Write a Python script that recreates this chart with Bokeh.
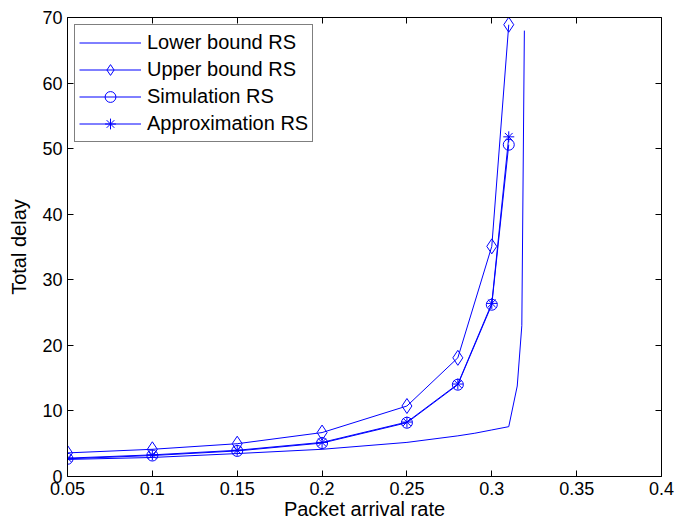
from bokeh.plotting import figure
from bokeh.models import LinearAxis, FixedTicker, Legend, LegendItem, Range1d, CustomLabelingPolicy
from bokeh.embed import file_html
from bokeh.resources import INLINE

# ---- data ----
x_rate = [0.05, 0.1, 0.15, 0.2, 0.25, 0.28, 0.3, 0.31]
upper_rs = [3.6, 4.15, 5.0, 6.7, 10.75, 18.1, 35.1, 68.9]
sim_rs = [2.7, 3.2, 3.9, 5.1, 8.2, 14.0, 26.2, 50.6]
approx_rs = [2.8, 3.3, 4.0, 5.2, 8.3, 14.1, 26.4, 51.8]

x_lower = [0.05, 0.1, 0.15, 0.2, 0.25, 0.28, 0.29, 0.3, 0.31, 0.315, 0.3177, 0.3192]
lower_rs = [2.6, 2.9, 3.5, 4.15, 5.2, 6.2, 6.6, 7.1, 7.6, 13.8, 23.0, 68.0]

x_ticks = [0.05, 0.1, 0.15, 0.2, 0.25, 0.3, 0.35, 0.4]
x_tick_labels = ["0.05", "0.1", "0.15", "0.2", "0.25", "0.3", "0.35", "0.4"]
y_ticks = [0, 10, 20, 30, 40, 50, 60, 70]

series_names = ["Lower bound RS", "Upper bound RS", "Simulation RS", "Approximation RS"]

BLUE = "#0000ff"
FONT = "Liberation Sans"

p = figure(width=676, height=523, output_backend="svg", toolbar_location=None,
           x_range=Range1d(0.05, 0.4), y_range=Range1d(0, 70),
           min_border_left=67, min_border_right=15, min_border_top=17, min_border_bottom=47)
p.xgrid.visible = False
p.ygrid.visible = False
p.outline_line_color = None
p.background_fill_color = "white"
p.border_fill_color = "white"

r_low = p.line(x_lower, lower_rs, color=BLUE, line_width=1)
r_up_l = p.line(x_rate, upper_rs, color=BLUE, line_width=1)
r_up_m = p.scatter(x_rate, upper_rs, marker="diamond", size=15, line_color=BLUE, fill_color=None, line_width=1)
r_sim_l = p.line(x_rate, sim_rs, color=BLUE, line_width=1)
r_sim_m = p.scatter(x_rate, sim_rs, marker="circle", size=11, line_color=BLUE, fill_color=None, line_width=1)
r_app_l = p.line(x_rate, approx_rs, color=BLUE, line_width=1)
r_app_m = p.scatter(x_rate, approx_rs, marker="asterisk", size=11, line_color=BLUE, fill_color=None, line_width=1)

def style_axis(ax, labels=True):
    ax.axis_line_color = "black"
    ax.axis_line_width = 1
    ax.major_tick_in = 6
    ax.major_tick_out = 0
    ax.major_tick_line_color = "black"
    ax.minor_tick_line_color = None
    if labels:
        ax.major_label_text_font = FONT
        ax.major_label_text_font_size = "18px"
        ax.major_label_text_color = "black"
        ax.major_label_standoff = 5
        ax.axis_label_text_font = FONT
        ax.axis_label_text_font_size = "20px"
        ax.axis_label_text_font_style = "normal"
        ax.axis_label_text_color = "black"
    else:
        ax.major_label_policy = CustomLabelingPolicy(code="""
            for (const i of indices) {
                indices.unset(i)
            }
            return indices
        """)
        ax.major_label_standoff = 0

xax = p.xaxis[0]
xax.ticker = FixedTicker(ticks=x_ticks)
xax.major_label_overrides = {t: l for t, l in zip(x_ticks, x_tick_labels)}
xax.axis_label = "Packet arrival rate"
style_axis(xax)
xax.axis_label_standoff = 0

yax = p.yaxis[0]
yax.ticker = FixedTicker(ticks=y_ticks)
yax.axis_label = "Total delay"
style_axis(yax)
yax.axis_label_standoff = 9

top = LinearAxis(ticker=FixedTicker(ticks=x_ticks))
style_axis(top, labels=False)
p.add_layout(top, "above")
right = LinearAxis(ticker=FixedTicker(ticks=y_ticks))
style_axis(right, labels=False)
p.add_layout(right, "right")

legend = Legend(items=[
    LegendItem(label=series_names[0], renderers=[r_low]),
    LegendItem(label=series_names[1], renderers=[r_up_l, r_up_m]),
    LegendItem(label=series_names[2], renderers=[r_sim_l, r_sim_m]),
    LegendItem(label=series_names[3], renderers=[r_app_l, r_app_m]),
], location="top_left")
legend.margin = 7
legend.padding = 4
legend.spacing = 0
legend.label_height = 27
legend.glyph_height = 27
legend.glyph_width = 62
legend.label_standoff = 6
legend.label_text_font = FONT
legend.label_text_font_size = "20px"
legend.label_text_color = "black"
legend.border_line_color = "black"
legend.border_line_width = 1
legend.background_fill_color = "white"
legend.background_fill_alpha = 1
p.add_layout(legend)

open("out.html", "w").write(file_html(p, INLINE))
